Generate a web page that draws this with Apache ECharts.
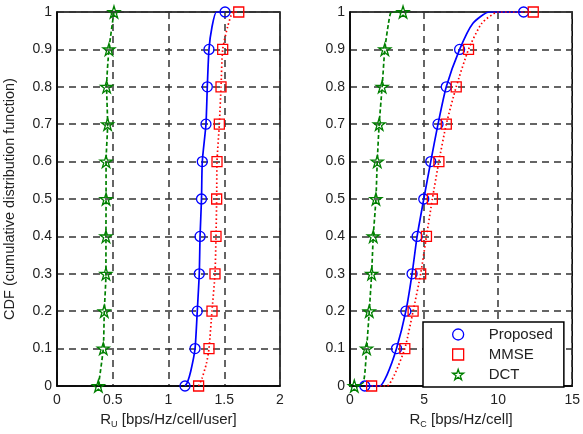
<!DOCTYPE html>
<html>
<head>
<meta charset="utf-8">
<script src="https://cdn.jsdelivr.net/npm/echarts@6/dist/echarts.min.js"></script>
<style>
html, body { margin: 0; padding: 0; background: #fff; }
#main { width: 583px; height: 434px; }
</style>
</head>
<body>
<div id="main"></div>
<script>
"use strict"
// CDF levels where the markers sit
var cdfLevels = [0, 0.1, 0.2, 0.3, 0.4, 0.5, 0.6, 0.7, 0.8, 0.9, 1];

// left plot, R_U marker positions
var ruProposed = [1.148, 1.238, 1.258, 1.276, 1.283, 1.296, 1.303, 1.336, 1.348, 1.363, 1.507];
var ruMMSE = [1.27, 1.363, 1.39, 1.417, 1.426, 1.432, 1.435, 1.456, 1.471, 1.486, 1.63];
var ruDCT = [0.371, 0.415, 0.424, 0.439, 0.439, 0.44, 0.44, 0.454, 0.445, 0.466, 0.511];

// right plot, R_C marker positions
var rcProposed = [1.0, 3.14, 3.77, 4.19, 4.53, 4.98, 5.45, 5.94, 6.5, 7.4, 11.72];
var rcMMSE = [1.46, 3.7, 4.26, 4.77, 5.16, 5.56, 6.0, 6.5, 7.17, 8.0, 12.37];
var rcDCT = [0.29, 1.12, 1.3, 1.46, 1.57, 1.75, 1.84, 1.97, 2.17, 2.35, 3.58];

// curves [x, cdf]
var ruProposedCurve = [[1.148,0],[1.17,0.01],[1.2,0.04],[1.238,0.1],[1.258,0.2],[1.276,0.3],[1.283,0.4],[1.296,0.5],[1.303,0.6],[1.336,0.7],[1.348,0.8],[1.363,0.9],[1.39,0.96],[1.43,1],[1.507,1]];
var ruMMSECurve = [[1.27,0],[1.3,0.02],[1.34,0.06],[1.363,0.1],[1.39,0.2],[1.417,0.3],[1.426,0.4],[1.432,0.5],[1.435,0.6],[1.456,0.7],[1.471,0.8],[1.486,0.9],[1.53,0.96],[1.58,1],[1.63,1]];
var ruDCTCurve = [[0.371,0],[0.415,0.1],[0.424,0.2],[0.439,0.3],[0.439,0.4],[0.44,0.5],[0.44,0.6],[0.454,0.7],[0.445,0.8],[0.466,0.9],[0.511,1]];
var rcProposedCurve = [[1.0,0],[2.0,0],[2.5,0.03],[3.14,0.1],[3.77,0.2],[4.19,0.3],[4.53,0.4],[4.98,0.5],[5.45,0.6],[5.94,0.7],[6.5,0.8],[7.4,0.9],[8.3,0.97],[9.4,1],[11.72,1]];
var rcMMSECurve = [[1.46,0],[2.5,0],[3.0,0.03],[3.7,0.1],[4.26,0.2],[4.77,0.3],[5.16,0.4],[5.56,0.5],[6.0,0.6],[6.5,0.7],[7.17,0.8],[8.0,0.9],[8.9,0.97],[10.0,1],[12.37,1]];
var rcDCTCurve = [[0.29,0],[0.9,0.01],[1.12,0.1],[1.3,0.2],[1.46,0.3],[1.57,0.4],[1.75,0.5],[1.84,0.6],[1.97,0.7],[2.17,0.8],[2.35,0.9],[2.6,0.97],[2.8,1],[3.58,1]];

var names = ['Proposed', 'MMSE', 'DCT'];

var BLUE = '#0000ff', RED = '#ff0000', GREEN = '#008000';
var STAR = 'path://M100 0 L122.45 69.1 L195.1 69.1 L136.3 111.8 L158.8 180.9 L100 138.2 L41.2 180.9 L63.7 111.8 L4.9 69.1 L77.55 69.1 Z';

function pts(xs) {
    var res = [];
    for (var i = 0; i < xs.length; i++) res.push([xs[i], cdfLevels[i]]);
    return res;
}

function curve(idx, data, color, type) {
    return {
        type: 'line', name: 'c' + idx + color, xAxisIndex: idx, yAxisIndex: idx,
        data: data, showSymbol: false, smooth: 0.2, silent: true,
        lineStyle: { color: color, width: 1.7, type: type },
        z: 2
    };
}
function marks(idx, name, xs, color, symbol, size) {
    return {
        type: 'scatter', name: name, xAxisIndex: idx, yAxisIndex: idx,
        data: pts(xs), symbol: symbol, symbolSize: size,
        itemStyle: { color: 'transparent', borderColor: color, borderWidth: 1.3, opacity: 1 },
        z: 3
    };
}

var textCol = '#222';
var FONT = 'Liberation Sans';
var gridLine = { show: true, lineStyle: { color: '#333', width: 1.5, type: [7, 5] } };

function yAx(idx, withName) {
    var a = {
        type: 'value', gridIndex: idx, min: 0, max: 1, interval: 0.1,
        axisLine: { show: true, lineStyle: { color: '#000', width: 1.5 } },
        axisTick: { show: false },
        axisLabel: { color: textCol, fontSize: 14, margin: 5, fontFamily: FONT },
        splitLine: gridLine
    };
    if (withName) {
        a.name = 'CDF (cumulative distribution function)';
        a.nameLocation = 'middle';
        a.nameGap = 40;
        a.nameTextStyle = { color: textCol, fontSize: 14.5, fontFamily: FONT };
    }
    return a;
}
function xAx(idx, max, interval, name) {
    return {
        type: 'value', gridIndex: idx, min: 0, max: max, interval: interval,
        axisLine: { show: true, lineStyle: { color: '#000', width: 1.5 } },
        axisTick: { show: false },
        axisLabel: { color: textCol, fontSize: 14, margin: 7, fontFamily: FONT },
        splitLine: gridLine,
        name: name, nameLocation: 'middle', nameGap: 25,
        nameTextStyle: {
            color: textCol, fontSize: 15, fontFamily: FONT,
            rich: { sub: { fontSize: 9, color: textCol, padding: [9, 0, 0, 0], fontFamily: FONT } }
        }
    };
}

var option = {
    backgroundColor: '#fff',
    animation: false,
    grid: [
        { left: 57, right: 303, top: 12, bottom: 40, show: true, borderColor: '#000', borderWidth: 1.5 },
        { left: 350, right: 10, top: 12, bottom: 40, show: true, borderColor: '#000', borderWidth: 1.5 }
    ],
    xAxis: [
        xAx(0, 2, 0.5, 'R{sub|U} [bps/Hz/cell/user]'),
        xAx(1, 15, 5, 'R{sub|C} [bps/Hz/cell]')
    ],
    yAxis: [yAx(0, true), yAx(1, false)],
    legend: {
        orient: 'vertical', left: 423, top: 322,
        padding: [5, 11, 5, 29], itemGap: 5,
        itemWidth: 11, itemHeight: 11,
        backgroundColor: '#fff', borderColor: '#000', borderWidth: 1.5,
        textStyle: { color: textCol, fontSize: 15, padding: [0, 0, 0, 20], fontFamily: FONT },
        data: [
            { name: names[0], icon: 'circle', itemStyle: { color: 'transparent', borderColor: BLUE, borderWidth: 1.3 } },
            { name: names[1], icon: 'rect', itemStyle: { color: 'transparent', borderColor: RED, borderWidth: 1.3 } },
            { name: names[2], icon: STAR, itemStyle: { color: 'transparent', borderColor: GREEN, borderWidth: 1.3 } }
        ],
        selectedMode: false
    },
    series: [
        curve(0, ruProposedCurve, BLUE, 'solid'),
        curve(0, ruMMSECurve, RED, [1.5, 2.5]),
        curve(0, ruDCTCurve, GREEN, [4, 2.5]),
        curve(1, rcProposedCurve, BLUE, 'solid'),
        curve(1, rcMMSECurve, RED, [1.5, 2.5]),
        curve(1, rcDCTCurve, GREEN, [4, 2.5]),
        marks(1, names[0], rcProposed, BLUE, 'circle', 10),
        marks(1, names[1], rcMMSE, RED, 'rect', 10),
        marks(1, names[2], rcDCT, GREEN, STAR, 12),
        marks(0, names[0], ruProposed, BLUE, 'circle', 10),
        marks(0, names[1], ruMMSE, RED, 'rect', 10),
        marks(0, names[2], ruDCT, GREEN, STAR, 12)
    ]
};

var chart = echarts.init(document.getElementById('main'));
chart.setOption(option);
</script>
</body>
</html>
